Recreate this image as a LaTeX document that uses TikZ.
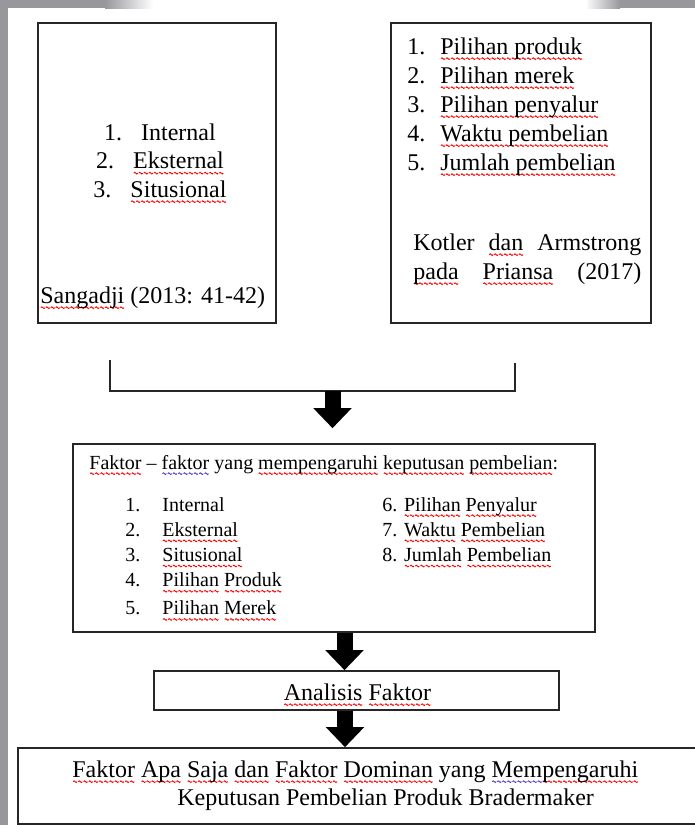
\documentclass[tikz,border=0pt]{standalone}
\usepackage{fontspec}
\setmainfont{Liberation Serif}
\usetikzlibrary{arrows.meta}
\definecolor{bingkai}{RGB}{152,151,156}
\definecolor{ungu}{RGB}{90,60,200}
\newsavebox{\gelmerah}
\newsavebox{\gelungu}
\newcommand{\buatgel}[2]{\sbox{#1}{\begin{pgfpicture}\pgfsetlinewidth{0.45pt}\pgfsetstrokecolor{#2}%
  \pgfpathmoveto{\pgfpoint{0pt}{0pt}}%
  \pgfpathcurveto{\pgfpoint{0.33pt}{0.55pt}}{\pgfpoint{0.67pt}{0.55pt}}{\pgfpoint{1pt}{0pt}}%
  \pgfpathcurveto{\pgfpoint{1.33pt}{-0.55pt}}{\pgfpoint{1.67pt}{-0.55pt}}{\pgfpoint{2pt}{0pt}}%
  \pgfusepath{stroke}\end{pgfpicture}}}
\newcommand{\garisgel}[2]{\leavevmode\setbox0\hbox{#2}\rlap{\lower3.1pt\hbox to \wd0{\xleaders\copy#1\hfil}}\box0\relax}
\newcommand{\sq}[1]{\garisgel{\gelmerah}{#1}}
\newcommand{\sqb}[1]{\garisgel{\gelungu}{#1}}
\begin{document}
\buatgel{\gelmerah}{red}\buatgel{\gelungu}{ungu}%
\begin{tikzpicture}[x=0.5pt,y=-0.5pt,
  kotak/.style={draw=black!85,line width=0.8pt,inner sep=0pt},
  teks/.style={inner sep=0pt,font=\fontsize{12}{14.5}\selectfont},
  kecil/.style={inner sep=0pt,font=\fontsize{10}{12.6}\selectfont},
  garis/.style={draw=black!85,line width=0.6pt},
  panah/.style={line width=8pt,-{Triangle[width=18.5pt,length=10pt]}}]
\useasboundingbox (0,0) rectangle (695,825);
\fill[bingkai] (0,0) rectangle (8,825);
\fill[bingkai] (0,0) rectangle (105,8);
\shade[left color=bingkai,right color=white] (105,0) rectangle (153,8);
\shade[left color=white,right color=bingkai] (585,0) rectangle (620,8);
\fill[bingkai] (620,0) rectangle (695,8);

\node[kotak,minimum width=119pt,minimum height=150pt] (sumber1) at (157,173) {};
\node[teks,anchor=base,font=\fontsize{12}{14.25}\selectfont] (daftar1) at (160,140) {\begin{tabular}[t]{@{}c@{}}
1.\hspace{9.5pt}Internal\\
2.\hspace{9.5pt}\sq{Eksternal}\\
3.\hspace{9.5pt}\sq{Situsional}
\end{tabular}};
\node[teks,anchor=base west] (rujukan1) at (40,303) {\sq{Sangadji} (2013: 41-42)};

\node[kotak,minimum width=130pt,minimum height=150pt] (sumber2) at (521,173) {};
\node[teks,anchor=base west] (daftar2) at (407,54) {\begin{tabular}[t]{@{}l@{\hspace{7.5pt}}l@{}}
1. & \sq{Pilihan produk}\\
2. & \sq{Pilihan merek}\\
3. & \sq{Pilihan penyalur}\\
4. & \sq{Waktu pembelian}\\
5. & \sq{Jumlah pembelian}
\end{tabular}};
\node[teks,anchor=base west] (rujukan2) at (413,250) {\begin{tabular}[t]{@{}l@{}}
\makebox[114pt][s]{Kotler \sq{dan} Armstrong}\\
\makebox[114pt][s]{\sq{pada} \sq{Priansa} (2017)}
\end{tabular}};

\coordinate (kiri) at (110,360);
\coordinate (kanan) at (515,363);
\coordinate (temu) at (332.5,391);
\draw[garis] (kiri) |- (temu) -| (kanan);

\node[kotak,minimum width=261pt,minimum height=94pt] (faktor) at (334,538) {};
\node[kecil,anchor=base west] (judul) at (89,469) {\sq{Faktor} – \sqb{faktor} yang \sq{mempengaruhi} \sq{keputusan} \sq{pembelian}:};
\node[kecil,anchor=base west] (daftar3) at (125,511) {\begin{tabular}[t]{@{}l@{\hspace{11pt}}l@{}}
1. & Internal\\
2. & \sq{Eksternal}\\
3. & \sq{Situsional}\\
4. & \sq{Pilihan} \sq{Produk}\\[1.5pt]
5. & \sq{Pilihan} \sq{Merek}
\end{tabular}};
\node[kecil,anchor=base west] (daftar4) at (382,511) {\begin{tabular}[t]{@{}l@{}}
6. \sq{Pilihan} \sq{Penyalur}\\
7. \sq{Waktu} \sq{Pembelian}\\
8. \sq{Jumlah} \sq{Pembelian}
\end{tabular}};

\node[kotak,minimum width=202.5pt,minimum height=19.5pt] (analisis) at (356.5,690.5) {};
\node[teks,anchor=base] (teksanalisis) at (357.5,700) {\sq{Analisis} \sq{Faktor}};

\node[kotak,minimum width=341pt,minimum height=38pt] (hasil) at (359,786) {};
\node[teks,anchor=base west,font=\fontsize{12}{14}\selectfont] (tekshasil) at (72,777) {\begin{tabular}[t]{@{}l@{}}
\sq{Faktor} \sq{Apa} \sq{Saja} \sq{dan} \sq{Faktor} \sq{Dominan} yang \sqb{Mem}\sq{pengaruhi}\\
\hspace{52.5pt}Keputusan Pembelian Produk Bradermaker
\end{tabular}};

\path (temu |- faktor.north) ++(0,-15) coordinate (ujung1);
\draw[panah] (temu) -- (ujung1);
\path ([xshift=5.25pt]faktor.south) coordinate (pangkal2);
\draw[panah] (pangkal2) -- (pangkal2 |- analisis.north);
\path ([xshift=-5.75pt]analisis.south) coordinate (pangkal3);
\draw[panah] (pangkal3) -- (pangkal3 |- hasil.north);
\end{tikzpicture}
\end{document}
